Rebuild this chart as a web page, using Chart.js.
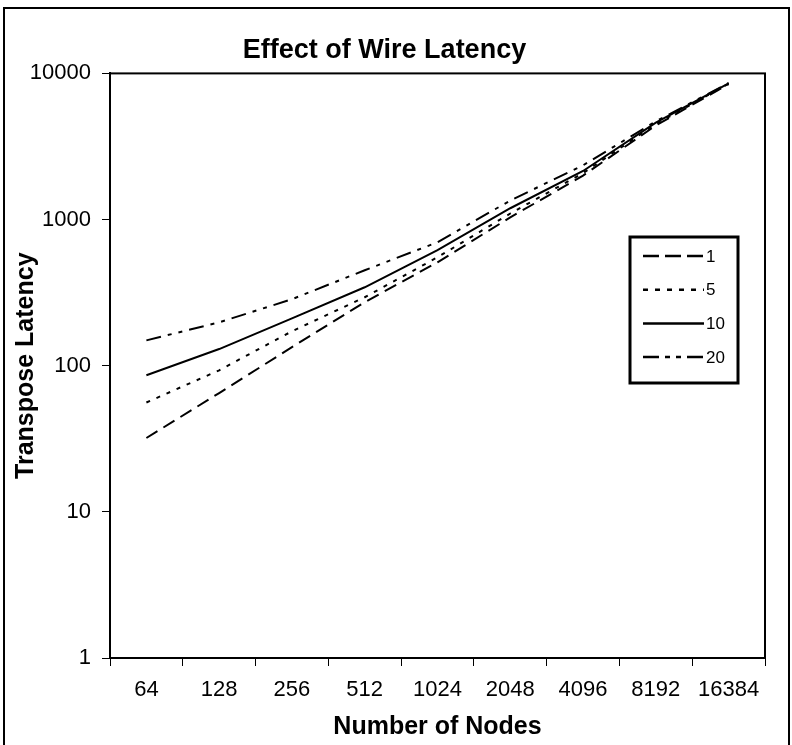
<!DOCTYPE html>
<html>
<head>
<meta charset="utf-8">
<script src="https://cdn.jsdelivr.net/npm/chart.js@4/dist/chart.umd.min.js"></script>
<style>
  html, body { margin: 0; padding: 0; background: #fff; }
  #wrap { width: 792px; height: 745px; }
</style>
</head>
<body>
<div id="wrap"><canvas id="latencyChart" width="792" height="745"></canvas></div>
<script>
// values
const nodeCounts = ['64', '128', '256', '512', '1024', '2048', '4096', '8192', '16384'];
const wire1 = [32, 65, 134, 272, 510, 1035, 2000, 4400, 8450];
const wire5 = [56, 93, 172, 294, 552, 1100, 2080, 4500, 8500];
const wire10 = [86, 130, 211, 344, 617, 1195, 2150, 4600, 8550];
const wire20 = [149, 198, 285, 450, 699, 1350, 2350, 4700, 8600];
const yTicks = [1, 10, 100, 1000, 10000];

Chart.defaults.font.family = '"Liberation Sans", Arial, sans-serif';
Chart.defaults.color = '#000';

// outer frame, plot frame and the boxed legend
const framePlugin = {
    id: 'frame',
    afterDraw(chart) {
        const ctx = chart.ctx;
        const a = chart.chartArea;
        ctx.save();
        ctx.strokeStyle = '#000';
        ctx.lineWidth = 2;
        ctx.beginPath();
        ctx.moveTo(4, 760);
        ctx.lineTo(4, 8);
        ctx.lineTo(789, 8);
        ctx.lineTo(789, 760);
        ctx.stroke();

        ctx.strokeRect(a.left, a.top, a.right - a.left, a.bottom - a.top);

        // legend
        const box = { x: 630, y: 237, w: 108, h: 146 };
        ctx.fillStyle = '#fff';
        ctx.fillRect(box.x, box.y, box.w, box.h);
        ctx.lineWidth = 3;
        ctx.strokeRect(box.x, box.y, box.w, box.h);
        ctx.font = '17px "Liberation Sans", Arial, sans-serif';
        ctx.textBaseline = 'middle';
        ctx.fillStyle = '#000';
        chart.data.datasets.forEach((ds, i) => {
            const y = 256 + i * 33.7;
            ctx.lineWidth = 2.5;
            ctx.setLineDash(ds.legendDash);
            ctx.beginPath();
            ctx.moveTo(643, y);
            ctx.lineTo(704, y);
            ctx.stroke();
            ctx.setLineDash([]);
            ctx.fillText(ds.label, 706, y + 1);
        });
        ctx.restore();
    }
};

const ctx = document.getElementById('latencyChart').getContext('2d');
new Chart(ctx, {
    type: 'line',
    data: {
        labels: nodeCounts,
        datasets: [
            { label: '1', data: wire1, borderDash: [13, 7], legendDash: [16, 6] },
            { label: '5', data: wire5, borderDash: [4, 7], legendDash: [5, 7] },
            { label: '10', data: wire10, borderDash: [], legendDash: [] },
            { label: '20', data: wire20, borderDash: [15, 7, 4, 7, 4, 7], legendDash: [16, 6, 5, 6, 5, 6] }
        ].map(ds => Object.assign(ds, {
            borderColor: '#000',
            borderWidth: 2,
            pointRadius: 0,
            tension: 0,
            fill: false
        }))
    },
    options: {
        responsive: false,
        animation: false,
        layout: { padding: { top: 7, left: 4, right: 27, bottom: 0 } },
        plugins: {
            legend: { display: false },
            tooltip: { enabled: false },
            title: {
                display: true,
                text: 'Effect of Wire Latency',
                font: { size: 27, weight: 'bold' },
                color: '#000',
                padding: { top: 27, bottom: 7 }
            }
        },
        scales: {
            x: {
                type: 'category',
                offset: true,
                grid: { offset: true, drawOnChartArea: false, drawTicks: true, tickLength: 8, color: '#000', tickWidth: 1 },
                border: { display: true, color: '#000', width: 2 },
                ticks: { font: { size: 22 }, padding: 11, maxRotation: 0, autoSkip: false, color: '#000' },
                title: { display: true, text: 'Number of Nodes', font: { size: 25, weight: 'bold' }, color: '#000', padding: { top: 0, bottom: 3 } },
                afterFit(scale) { scale.height = 87; }
            },
            y: {
                type: 'logarithmic',
                min: 1,
                max: 10000,
                grid: { drawOnChartArea: false, drawTicks: true, tickLength: 8, color: '#000', tickWidth: 1 },
                border: { display: true, color: '#000', width: 2 },
                afterBuildTicks(scale) { scale.ticks = yTicks.map(v => ({ value: v })); },
                ticks: { font: { size: 22 }, padding: 11, color: '#000', callback: v => String(v) },
                title: { display: true, text: 'Transpose Latency', font: { size: 25, weight: 'bold' }, color: '#000', padding: { top: 7, bottom: 0 } },
                afterFit(scale) { scale.width = 106; }
            }
        }
    },
    plugins: [framePlugin]
});
</script>
</body>
</html>
